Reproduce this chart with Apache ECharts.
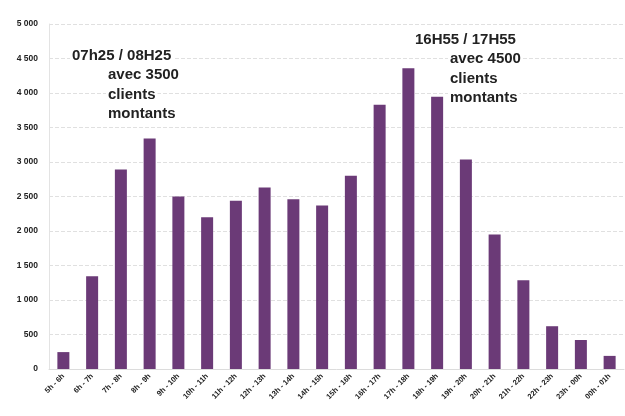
<!DOCTYPE html>
<html><head><meta charset="utf-8">
<script src="https://cdn.jsdelivr.net/npm/echarts@6/dist/echarts.min.js"></script>
<style>html,body{margin:0;padding:0;background:#fff}#c{width:625px;height:416px}</style>
</head><body><div id="c"></div>
<script>
var categories = ["5h - 6h","6h - 7h","7h - 8h","8h - 9h","9h - 10h","10h - 11h","11h - 12h","12h - 13h","13h - 14h","14h - 15h","15h - 16h","16h - 17h","17h - 18h","18h - 19h","19h - 20h","20h - 21h","21h - 22h","22h - 23h","23h - 00h","00h - 01h"];
var clients = [245, 1345, 2890, 3340, 2500, 2200, 2440, 2630, 2460, 2370, 2800, 3830, 4360, 3945, 3035, 1950, 1285, 620, 420, 190];
var annotLeft = ["07h25 / 08H25", "avec 3500", "clients", "montants"];
var annotRight = ["16H55 / 17H55", "avec 4500", "clients", "montants"];

var chart = echarts.init(document.getElementById('c'), null, {renderer: 'canvas'});
function fmt(v){ return String(v).replace(/\B(?=(\d{3})+(?!\d))/g, ' '); }
var tf = '"Liberation Sans", Arial, sans-serif';
function annot(lines, x0, x1, y0){
  var out = [];
  lines.forEach(function(t, i){
    out.push({type:'text', left: i === 0 ? x0 : x1, top: y0 + i*19.5, z: 10,
      style:{text:t, font:'bold 15px ' + tf, fill:'#222', backgroundColor:'#fff', padding:[1,2]}});
  });
  return out;
}
chart.setOption({
  animation: false,
  grid: {left: 49, right: 1, top: 24, bottom: 47},
  xAxis: {
    type: 'category', data: categories,
    axisLine: {show: true, lineStyle: {color: '#dcdcdc'}},
    axisTick: {show: false},
    axisLabel: {rotate: 45, fontSize: 7.5, fontWeight: 'bold', color: '#222', margin: 6, interval: 0, fontFamily: tf}
  },
  yAxis: {
    type: 'value', min: 0, max: 5000, interval: 500,
    axisLine: {show: true, lineStyle: {color: '#e3e3e3'}},
    axisTick: {show: false},
    splitLine: {lineStyle: {color: '#e0e0e0', type: 'dashed', width: 1}},
    axisLabel: {formatter: fmt, fontSize: 8.5, fontWeight: 'bold', color: '#222', margin: 11, fontFamily: tf}
  },
  series: [{
    type: 'bar', data: clients, barWidth: 12,
    itemStyle: {color: '#6b3a77'}
  }],
  graphic: annot(annotLeft, 70, 106, 47).concat(annot(annotRight, 413, 448, 31))
});
</script></body></html>
